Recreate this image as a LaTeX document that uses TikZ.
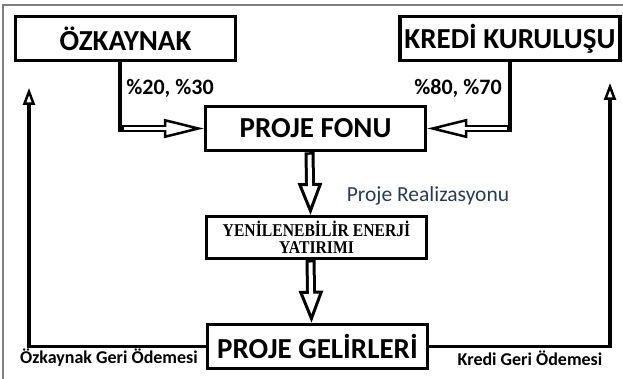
\documentclass[tikz,border=0pt]{standalone}
\usepackage{fontspec}
\setmainfont{Carlito}
\newfontfamily\yenfont[FakeStretch=0.87]{Liberation Serif}
\usepackage{tikz}
\usetikzlibrary{arrows.meta,positioning}

\definecolor{notecol}{RGB}{43,58,85}

\tikzset{
  box/.style={draw, line width=3.5pt, minimum width=220pt, minimum height=44pt,
    inner sep=0pt, font=\bfseries\fontsize{29}{31}\selectfont},
  link/.style={line width=3.5pt},
  fatarrow/.style={line width=10pt,
    -{Triangle[open, fill=white, length=32pt, width=24pt, line width=3pt]},
    postaction={draw=white, line width=4pt, -, shorten >=26pt, shorten <=2.5pt}},
  thinarrow/.style={line width=7pt,
    -{Triangle[open, fill=white, length=40pt, width=19pt, line width=2.5pt]},
    postaction={draw=white, line width=2.5pt, -, shorten >=34pt, shorten <=3.5pt}},
  backarrow/.style={line width=3.5pt,
    -{Triangle[open, fill=white, length=17pt, width=12pt, line width=2.5pt]}},
  share/.style={font=\bfseries\fontsize{22}{24}\selectfont, inner sep=0pt},
  repay/.style={font=\bfseries\fontsize{18}{20}\selectfont, inner sep=0pt},
  note/.style={font=\fontsize{21.5}{23}\selectfont, text=notecol, inner sep=0pt}
}

\begin{document}
\begin{tikzpicture}[x=1pt, y=-1pt]
  \useasboundingbox (0,0) rectangle (623,379);
  % page frame
  \draw[gray, line width=1.2pt] (3,379) -- (3,5) -- (623,5);
  % boxes
  \node[box] (ozk) at (125.5,38.5) {ÖZKAYNAK};
  \node[box] (kredi) at (510,38.5) {KREDİ KURULUŞU};
  \node[box] (fonu) at (315.5,128.5) {PROJE FONU};
  \node[box, minimum height=41.5pt, align=center,
    font=\yenfont\bfseries\fontsize{18}{16.5}\selectfont] (yen) at (316.5,237.5)
    {YENİLENEBİLİR ENERJİ\\YATIRIMI};
  \node[box] (gel) at (317.5,346.5) {PROJE GELİRLERİ};
  % funding shares
  \coordinate (ozkturn) at (120,128.5);
  \coordinate (krediturn) at (510,128.5);
  \draw[link] (ozk.south -| ozkturn) -- ([yshift=-3.5pt]ozkturn);
  \draw[thinarrow] (ozkturn) -- (fonu.west);
  \draw[link] (kredi.south -| krediturn) -- ([yshift=-3.5pt]krediturn);
  \draw[thinarrow] (krediturn) -- (fonu.east);
  \node[share] (ozkpay) at (170,88) {\%20, \%30};
  \node[share] (kredipay) at (458,88) {\%80, \%70};
  % realisation
  \draw[fatarrow] ([xshift=-6pt]fonu.south) -- ([xshift=-6pt]yen.north);
  \draw[fatarrow] ([xshift=-6pt]yen.south) -- ([xshift=-6pt]gel.north);
  \node[note] (realiz) at (428,196) {Proje Realizasyonu};
  % repayments
  \coordinate (ozkback) at (29,88);
  \coordinate (krediback) at (610,83);
  \draw[backarrow] (gel.west) -| (ozkback);
  \draw[backarrow] (gel.east) -| (krediback);
  \node[repay] (ozkrep) at (109,358) {Özkaynak Geri Ödemesi};
  \node[repay] (kredirep) at (530,358) {Kredi Geri Ödemesi};
\end{tikzpicture}
\end{document}
